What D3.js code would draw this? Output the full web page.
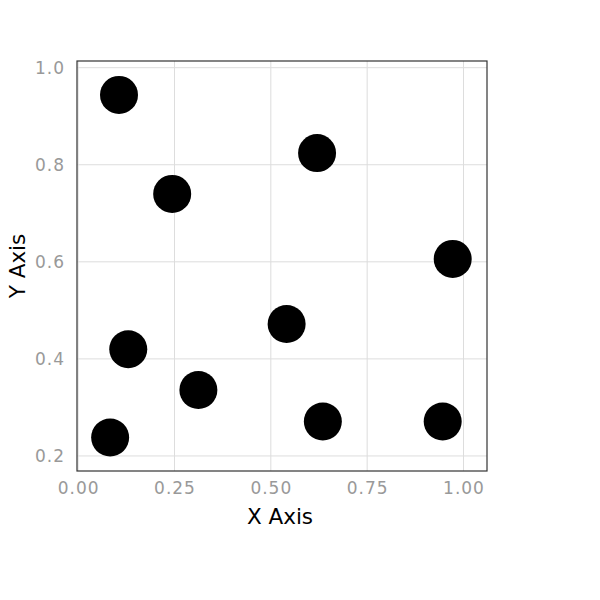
<!DOCTYPE html>
<meta charset="utf-8">
<style>
body { margin: 0; background: #fff; }
text { font-family: "DejaVu Sans", sans-serif; }
.tick text { fill: #999; font-size: 17px; letter-spacing: 1px; }
.grid line { stroke: #ddd; stroke-width: 1px; }
.title { font-size: 21.5px; fill: #000; }
</style>
<svg></svg>
<script src="https://cdn.jsdelivr.net/npm/d3@7"></script>
<script>

// point positions
var xs = [0.106, 0.244, 0.620, 0.972, 0.541, 0.130, 0.312, 0.083, 0.635, 0.946];
var ys = [0.944, 0.740, 0.824, 0.606, 0.472, 0.420, 0.336, 0.238, 0.271, 0.271];
var xTicks = [0, 0.25, 0.5, 0.75, 1];
var yTicks = [0.2, 0.4, 0.6, 0.8, 1.0];

var width = 600, height = 600;
// note: "top" is a reserved window property, so use plot* names
var plotLeft = 77, plotRight = 487, plotTop = 61, plotBottom = 471;

var svg = d3.select("svg")
    .attr("width", width)
    .attr("height", height);

var x = d3.scaleLinear()
    .domain([-0.003, 1.061])
    .range([plotLeft, plotRight]);

var y = d3.scaleLinear()
    .domain([0.169, 1.0138])
    .range([plotBottom, plotTop]);

// grid
var grid = svg.append("g").attr("class", "grid");
grid.selectAll("line.v")
    .data(xTicks)
  .enter().append("line")
    .attr("class", "v")
    .attr("x1", function(d) { return x(d); })
    .attr("x2", function(d) { return x(d); })
    .attr("y1", plotTop)
    .attr("y2", plotBottom);
grid.selectAll("line.h")
    .data(yTicks)
  .enter().append("line")
    .attr("class", "h")
    .attr("y1", function(d) { return y(d); })
    .attr("y2", function(d) { return y(d); })
    .attr("x1", plotLeft)
    .attr("x2", plotRight);

// axes (labels only)
svg.append("g")
    .attr("transform", "translate(0," + plotBottom + ")")
    .call(d3.axisBottom(x).tickValues(xTicks).tickFormat(d3.format(".2f")).tickSize(0).tickPadding(11));
svg.append("g")
    .attr("transform", "translate(" + plotLeft + ",0)")
    .call(d3.axisLeft(y).tickValues(yTicks).tickFormat(d3.format(".1f")).tickSize(0).tickPadding(12));
svg.selectAll(".domain").remove();
svg.selectAll(".tick text").attr("font-family", null).attr("font-size", null);

// points
svg.append("g")
  .selectAll("circle")
    .data(xs)
  .enter().append("circle")
    .attr("cx", function(d) { return x(d); })
    .attr("cy", function(d, i) { return y(ys[i]); })
    .attr("r", 19)
    .attr("fill", "#000");

// frame
svg.append("rect")
    .attr("x", plotLeft)
    .attr("y", plotTop)
    .attr("width", plotRight - plotLeft)
    .attr("height", plotBottom - plotTop)
    .attr("fill", "none")
    .attr("stroke", "#333")
    .attr("stroke-width", 1.2);

svg.append("text")
    .attr("class", "title")
    .attr("x", (plotLeft + plotRight) / 2 - 2)
    .attr("y", 524)
    .attr("text-anchor", "middle")
    .text("X Axis");

svg.append("text")
    .attr("class", "title")
    .attr("transform", "translate(25," + (plotTop + plotBottom) / 2 + ") rotate(-90)")
    .attr("text-anchor", "middle")
    .text("Y Axis");

</script>
